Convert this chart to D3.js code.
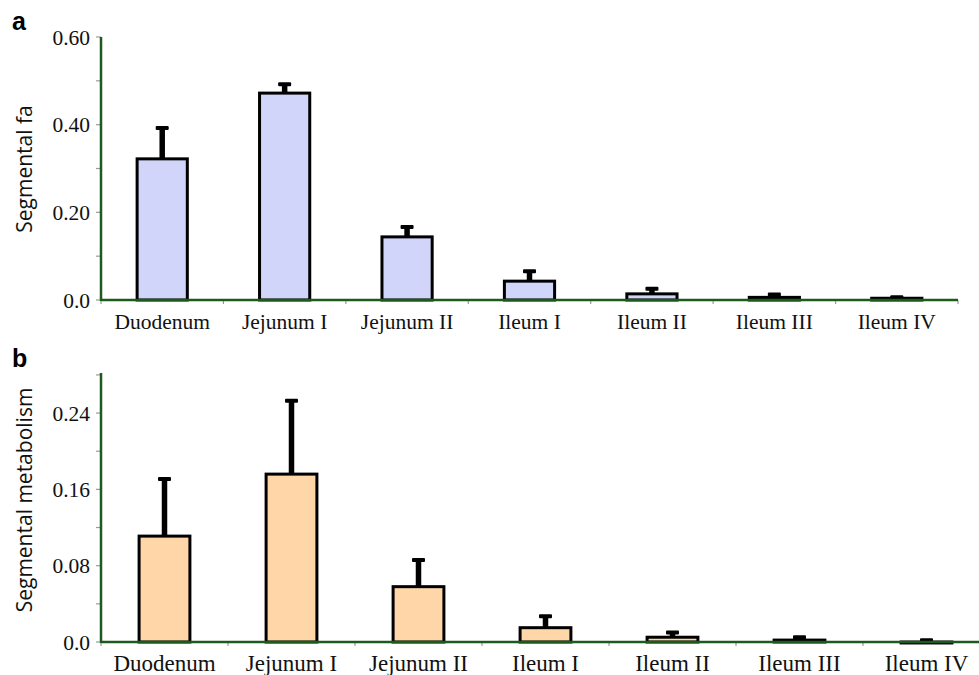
<!DOCTYPE html>
<html>
<head>
<meta charset="utf-8">
<script src="https://cdn.jsdelivr.net/npm/d3@7"></script>
<style>
  body { margin: 0; background: #fff; }
  svg { display: block; }
</style>
</head>
<body>
<svg id="chart"></svg>
<script>
(function(){

    var width = 979, height = 675;

    // data
    const categories = ["Duodenum", "Jejunum I", "Jejunum II", "Ileum I", "Ileum II", "Ileum III", "Ileum IV"];
    const faMean  = [0.322, 0.472, 0.144, 0.043, 0.014, 0.006, 0.004];
    const faErr   = [0.075, 0.025, 0.027, 0.027, 0.016, 0.011, 0.007];
    const metMean = [0.111, 0.176, 0.058, 0.015, 0.005, 0.002, -0.001];
    const metErr  = [0.062, 0.079, 0.030, 0.014, 0.007, 0.005, 0.005];
    const faTicks  = [0, 0.2, 0.4, 0.6];
    const faTickLabels  = ["0.0", "0.20", "0.40", "0.60"];
    const metTicks = [0, 0.08, 0.16, 0.24];
    const metTickLabels = ["0.0", "0.08", "0.16", "0.24"];

    let svg = d3.select("svg#chart")
        .attr("width", width)
        .attr("height", height);

    function panel(opt) {
        let g = svg.append("g");

        let x = d3.scaleBand()
            .domain(categories)
            .range(opt.xRange)
            .paddingInner(opt.pad)
            .paddingOuter(opt.pad / 2);

        let y = d3.scaleLinear()
            .domain(opt.yDomain)
            .range(opt.yRange);

        let y0 = y(0);

        // minor ticks on y axis
        g.append("g")
            .selectAll("line")
            .data(d3.range(0, opt.yDomain[1] + 1e-9, opt.minor))
            .enter()
            .append("line")
            .attr("x1", opt.xRange[0] - 5)
            .attr("x2", opt.xRange[0])
            .attr("y1", d => y(d))
            .attr("y2", d => y(d))
            .style("stroke", "#9a9a9a")
            .style("stroke-width", 1.2);

        // ticks between categories on x axis
        g.append("g")
            .selectAll("line")
            .data(d3.range(0, categories.length + 1))
            .enter()
            .append("line")
            .attr("x1", i => opt.xRange[0] + i * x.step())
            .attr("x2", i => opt.xRange[0] + i * x.step())
            .attr("y1", y0)
            .attr("y2", y0 + 4)
            .style("stroke", "#9a9a9a")
            .style("stroke-width", 1.2);

        // y tick labels
        g.append("g")
            .selectAll("text")
            .data(opt.ticks)
            .enter()
            .append("text")
            .attr("x", opt.xRange[0] - 11)
            .attr("y", d => y(d))
            .attr("dy", "0.35em")
            .attr("text-anchor", "end")
            .style("font-family", "'Liberation Serif', 'Times New Roman', serif")
            .style("font-size", opt.tickSize + "px")
            .style("fill", "#111")
            .text((d, i) => opt.tickLabels[i]);

        // bars
        g.append("g")
            .selectAll("rect")
            .data(opt.mean)
            .enter()
            .append("rect")
            .attr("x", (d, i) => x(categories[i]))
            .attr("width", x.bandwidth())
            .attr("y", d => Math.min(y(d), y0))
            .attr("height", d => Math.max(Math.abs(y0 - y(d)), 0.5))
            .style("fill", opt.fill)
            .style("stroke", "#000")
            .style("stroke-width", 3);

        // error bars
        let eb = g.append("g")
            .selectAll("g")
            .data(opt.mean)
            .enter()
            .append("g");

        eb.append("line")
            .attr("x1", (d, i) => x(categories[i]) + x.bandwidth() / 2)
            .attr("x2", (d, i) => x(categories[i]) + x.bandwidth() / 2)
            .attr("y1", d => y(d))
            .attr("y2", (d, i) => y(d + opt.err[i]) + 2)
            .style("stroke", "#000")
            .style("stroke-width", 5.5);

        eb.append("rect")
            .attr("x", (d, i) => x(categories[i]) + x.bandwidth() / 2 - 6.5)
            .attr("y", (d, i) => y(d + opt.err[i]))
            .attr("width", 13)
            .attr("height", 4)
            .attr("rx", 1)
            .style("fill", "#000");

        // axes
        g.append("line")
            .attr("x1", opt.xRange[0])
            .attr("x2", opt.xRange[1])
            .attr("y1", y0)
            .attr("y2", y0)
            .style("stroke", "#1d5a1d")
            .style("stroke-width", 2.5);

        g.append("line")
            .attr("x1", opt.xRange[0])
            .attr("x2", opt.xRange[0])
            .attr("y1", opt.yRange[1])
            .attr("y2", y0 + 1)
            .style("stroke", "#1d5a1d")
            .style("stroke-width", 2.5);

        // category labels
        g.append("g")
            .selectAll("text")
            .data(categories)
            .enter()
            .append("text")
            .attr("x", d => x(d) + x.bandwidth() / 2)
            .attr("y", opt.labelY)
            .attr("text-anchor", "middle")
            .style("font-family", "'Liberation Serif', 'Times New Roman', serif")
            .style("font-size", opt.labelSize + "px")
            .style("fill", "#111")
            .text(d => d);

        // y axis title
        g.append("text")
            .attr("transform", "translate(" + opt.titleX + "," + opt.titleY + ") rotate(-90)")
            .attr("text-anchor", "middle")
            .style("font-family", "'Open Sans', sans-serif")
            .style("font-size", "21px")
            .style("fill", "#111")
            .text(opt.title);

        // panel letter
        g.append("text")
            .attr("x", 12)
            .attr("y", opt.letterY)
            .style("font-family", "'Liberation Sans', Arial, sans-serif")
            .style("font-weight", "bold")
            .style("font-size", "25px")
            .style("fill", "#000")
            .text(opt.letter);
    }

    panel({
        mean: faMean, err: faErr,
        xRange: [101, 958], yRange: [300, 37], yDomain: [0, 0.6],
        pad: 0.59, minor: 0.1,
        ticks: faTicks, tickLabels: faTickLabels, tickSize: 21.5,
        fill: "#d2d5fa", labelY: 329, labelSize: 21.5,
        title: "Segmental fa", titleX: 32, titleY: 169,
        letter: "a", letterY: 30
    });

    panel({
        mean: metMean, err: metErr,
        xRange: [101, 990], yRange: [642, 373], yDomain: [0, 0.282],
        pad: 0.6, minor: 0.04,
        ticks: metTicks, tickLabels: metTickLabels, tickSize: 21.5,
        fill: "#ffd6a8", labelY: 671, labelSize: 23,
        title: "Segmental metabolism", titleX: 32, titleY: 500,
        letter: "b", letterY: 367
    });

})();
</script>
</body>
</html>
